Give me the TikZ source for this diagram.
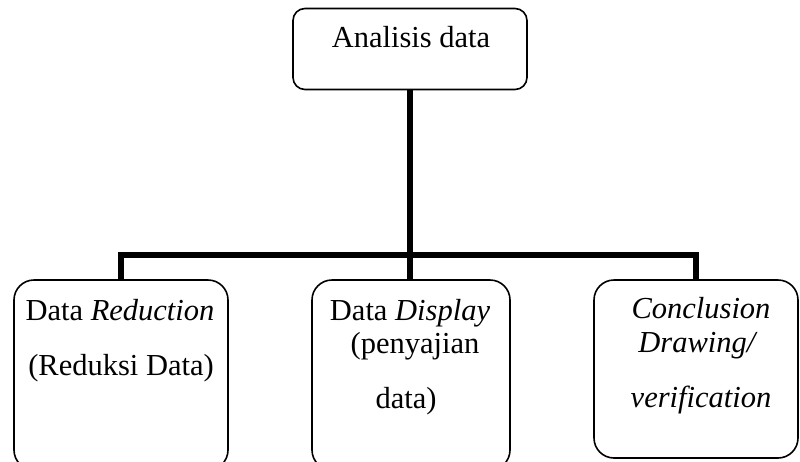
\documentclass[tikz,border=0pt]{standalone}
\usepackage{fontspec}
\setmainfont{Liberation Serif}
\begin{document}
\begin{tikzpicture}[x=1pt,y=-1pt,
  boxstyle/.style={draw=black,line width=1.6pt,rounded corners=20pt,inner sep=0pt},
  topbox/.style={draw=black,line width=1.6pt,rounded corners=12pt,inner sep=0pt},
  txt/.style={anchor=base,inner sep=0pt,font=\fontsize{30.5}{32}\selectfont},
  link/.style={line width=5.5pt}]
\useasboundingbox (0,0) rectangle (800,461);
\clip (0,0) rectangle (800,461);
\node[topbox,minimum width=234pt,minimum height=81pt] (top) at (410,49) {};
\node[boxstyle,minimum width=214pt,minimum height=190pt] (b1) at (121,375) {};
\node[boxstyle,minimum width=198pt,minimum height=190pt] (b2) at (411,375) {};
\node[boxstyle,minimum width=204pt,minimum height=178pt] (b3) at (696,369) {};
\node[txt] (t0) at (411,47) {Analisis data};
\node[txt] (t1a) at (120,320) {Data \textit{Reduction}};
\node[txt] (t1b) at (121,375) {(Reduksi Data)};
\node[txt] (t2a) at (410,320) {Data \textit{Display}};
\node[txt] (t2b) at (415,353) {(penyajian};
\node[txt] (t2c) at (406,408) {data)};
\node[txt] (t3a) at (701,318) {\textit{Conclusion}};
\node[txt] (t3b) at (698,352) {\textit{Drawing/}};
\node[txt] (t3c) at (701,407) {\textit{verification}};
\coordinate (j) at (410,255);
\draw[link] (top.south -| j) -- (j);
\draw[link] (j) -- (b2.north -| j);
\draw[link,line join=miter] (b1.north) -- (b1.north |- j) -- (b3.north |- j) -- (b3.north);
\end{tikzpicture}
\end{document}
